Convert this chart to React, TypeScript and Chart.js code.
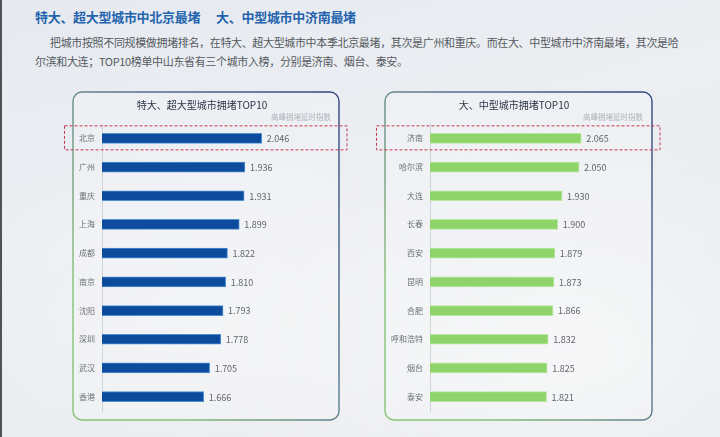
import React, { useEffect, useRef } from "react";
import { Chart, registerables } from "chart.js";
Chart.register(...registerables);

const bigCities = ["北京", "广州", "重庆", "上海", "成都", "南京", "沈阳", "深圳", "武汉", "香港"];
const bigValues = [2.046, 1.936, 1.931, 1.899, 1.822, 1.81, 1.793, 1.778, 1.705, 1.666];
const midCities = ["济南", "哈尔滨", "大连", "长春", "西安", "昆明", "合肥", "呼和浩特", "烟台", "泰安"];
const midValues = [2.065, 2.05, 1.93, 1.9, 1.879, 1.873, 1.866, 1.832, 1.825, 1.821];
const axisMin = 1;
const axisMax = 2.5;
const leftTitle = "特大、超大型城市拥堵TOP10";
const rightTitle = "大、中型城市拥堵TOP10";
const subTitle = "高峰拥堵延时指数";
const headingA = "特大、超大型城市中北京最堵";
const headingB = "大、中型城市中济南最堵";
const paraLine1 = "把城市按照不同规模做拥堵排名，在特大、超大型城市中本季北京最堵，其次是广州和重庆。而在大、中型城市中济南最堵，其次是哈";
const paraLine2 = "尔滨和大连；TOP10榜单中山东省有三个城市入榜，分别是济南、烟台、泰安。";

const FONT = "'Noto Sans CJK SC', 'Noto Sans', sans-serif";

type PanelProps = {
  labels: string[];
  values: number[];
  title: string;
  fill: string;
  edge: string;
  axisWidth: number;
  width: number;
  height: number;
  padRight: number;
  left: number;
  top: number;
};

function Panel(p: PanelProps) {
  const ref = useRef<HTMLCanvasElement | null>(null);
  useEffect(() => {
    const canvas = ref.current;
    if (!canvas) return;
    const decor = {
      id: "decor",
      beforeDraw(chart: any) {
        const ctx = chart.ctx as CanvasRenderingContext2D;
        const x = 13, y = 8, w = chart.width - 26, h = chart.height - 16;
        ctx.save();
        ctx.fillStyle = "rgba(255,255,255,0.18)";
        ctx.beginPath();
        (ctx as any).roundRect(x, y, w, h, 9);
        ctx.fill();
        const g = ctx.createLinearGradient(x + w, y, x, y + h * 0.6);
        g.addColorStop(0, "#33467f");
        g.addColorStop(0.5, "#56718f");
        g.addColorStop(1, "#86c476");
        ctx.strokeStyle = g;
        ctx.lineWidth = 1.4;
        ctx.stroke();
        ctx.restore();
      },
      afterDatasetsDraw(chart: any) {
        const ctx = chart.ctx as CanvasRenderingContext2D;
        const meta = chart.getDatasetMeta(0);
        const data = chart.data.datasets[0].data as number[];
        ctx.save();
        ctx.font = `9px ${FONT}`;
        ctx.fillStyle = "#616469";
        ctx.textBaseline = "middle";
        ctx.textAlign = "left";
        meta.data.forEach((bar: any, i: number) => {
          ctx.fillText(data[i].toFixed(3), bar.x + 5, bar.y + 0.5);
        });
        ctx.restore();
      },
      afterDraw(chart: any) {
        const ctx = chart.ctx as CanvasRenderingContext2D;
        const yc = chart.scales.y.getPixelForValue(0);
        ctx.save();
        ctx.strokeStyle = "#c23a52";
        ctx.lineWidth = 1;
        ctx.setLineDash([3, 2]);
        ctx.strokeRect(4.5, yc - 12.5, chart.width - 9.5, 24);
        ctx.restore();
      },
    };
    const chart = new Chart(canvas, {
      type: "bar",
      data: {
        labels: p.labels,
        datasets: [
          {
            data: p.values,
            backgroundColor: p.fill,
            borderColor: p.edge,
            borderWidth: 1,
            barThickness: 10,
          },
        ],
      },
      options: {
        indexAxis: "y",
        animation: false,
        responsive: false,
        maintainAspectRatio: false,
        layout: { padding: { left: 13, right: p.padRight, top: 0, bottom: 17 } },
        plugins: {
          legend: { display: false },
          tooltip: { enabled: false },
          title: {
            display: true,
            text: p.title,
            color: "#2c3646",
            font: { family: FONT, size: 10, weight: "normal" },
            padding: { top: 15, bottom: 0 },
          },
          subtitle: {
            display: true,
            text: subTitle,
            align: "end",
            color: "#aeb3ba",
            font: { family: FONT, size: 7.5 },
            padding: { top: 2, bottom: 2 },
          },
        },
        scales: {
          x: { display: false, min: axisMin, max: axisMax },
          y: {
            grid: { display: false, drawTicks: false },
            border: { display: true, color: "rgba(165,175,185,0.45)" },
            ticks: { color: "#6b6f75", font: { family: FONT, size: 8 }, padding: 7 },
            afterFit(s: any) {
              s.width = p.axisWidth;
            },
          },
        },
      } as any,
      plugins: [decor],
    });
    return () => chart.destroy();
  }, []);
  return (
    <canvas
      ref={ref}
      width={p.width}
      height={p.height}
      style={{ position: "absolute", left: p.left, top: p.top, width: p.width, height: p.height }}
    />
  );
}

export default function App() {
  return (
    <div
      style={{
        position: "fixed",
        left: 0,
        top: 0,
        width: 720,
        height: 437,
        overflow: "hidden",
        fontFamily: FONT,
        background:
          "radial-gradient(ellipse at 78% 80%, rgba(255,255,255,0.55), rgba(255,255,255,0) 45%), radial-gradient(ellipse at 30% 75%, rgba(255,255,255,0.35), rgba(255,255,255,0) 40%), linear-gradient(165deg, #e6eaf0 0%, #eceef2 40%, #e7e9ec 100%)",
      }}
    >
      <div style={{ position: "absolute", left: 0, top: 0, width: 2, height: 437, background: "#4f5155" }} />
      <div
        style={{
          position: "absolute",
          left: 35,
          top: 8,
          fontSize: 13,
          fontWeight: "bold",
          color: "#2463ad",
          whiteSpace: "nowrap",
          letterSpacing: -0.3,
          lineHeight: "18px",
        }}
      >
        {headingA}
        <span style={{ marginLeft: 16 }}>{headingB}</span>
      </div>
      <div
        style={{
          position: "absolute",
          left: 50,
          top: 34,
          fontSize: 11,
          color: "#555a60",
          whiteSpace: "nowrap",
          letterSpacing: -0.35,
          lineHeight: "16px",
        }}
      >
        {paraLine1}
      </div>
      <div
        style={{
          position: "absolute",
          left: 35,
          top: 53,
          fontSize: 11,
          color: "#555a60",
          whiteSpace: "nowrap",
          letterSpacing: -0.35,
          lineHeight: "16px",
        }}
      >
        {paraLine2}
      </div>
      <Panel
        labels={bigCities}
        values={bigValues}
        title={leftTitle}
        fill="#0d4c9d"
        edge="#4f8fd2"
        axisWidth={29}
        width={292}
        height={344}
        padRight={21}
        left={60}
        top={84}
      />
      <Panel
        labels={midCities}
        values={midValues}
        title={rightTitle}
        fill="#8fd46a"
        edge="#b9e8a2"
        axisWidth={45}
        width={293}
        height={344}
        padRight={22}
        left={372}
        top={84}
      />
    </div>
  );
}
